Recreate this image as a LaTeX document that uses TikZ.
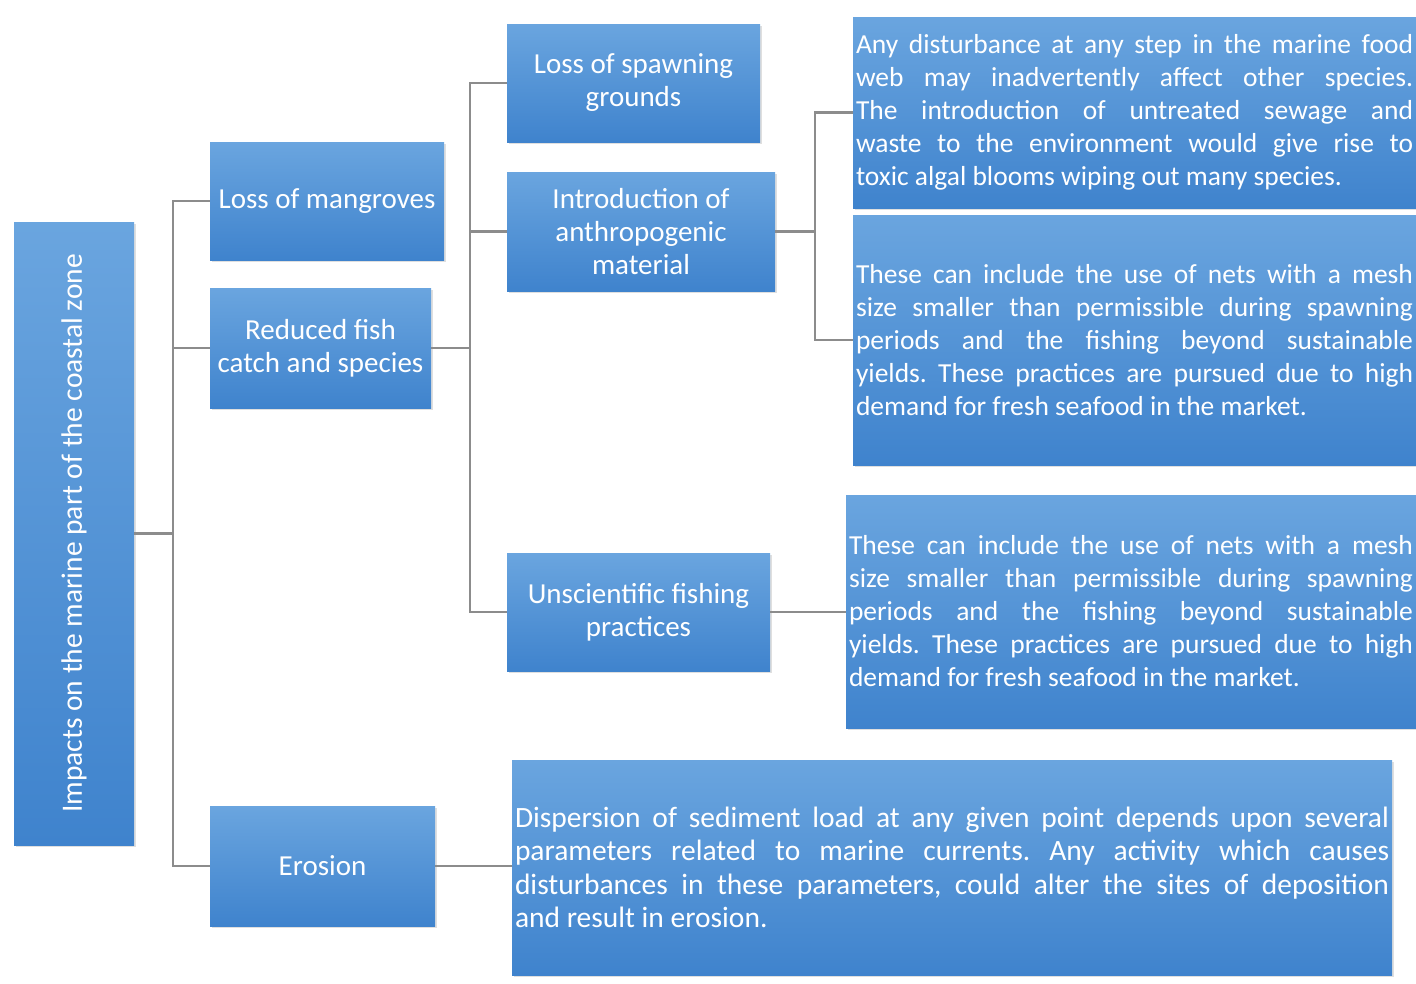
\documentclass[tikz,border=0pt]{standalone}
\usepackage{fontspec}
\setmainfont{Carlito}
\usetikzlibrary{shadows}
\definecolor{boxtop}{HTML}{6AA5DF}
\definecolor{boxbot}{HTML}{3F83CD}
\definecolor{conncol}{HTML}{8C8C8C}
\frenchspacing
\tikzset{
  box/.style={rectangle, top color=boxtop, bottom color=boxbot, draw=none,
    text=white, align=center, inner sep=3pt,
    font=\fontsize{29}{33}\selectfont\frenchspacing,
    drop shadow={opacity=0.25, shadow xshift=2pt, shadow yshift=-2pt}},
  txt/.style={box, align=justify, font=\fontsize{27.5}{33}\selectfont\frenchspacing},
  conn/.style={draw=conncol, line width=2.2pt}
}
\begin{document}
\begin{tikzpicture}[x=1pt,y=-1pt]
\useasboundingbox (0,0) rectangle (1416,983);
% level 0
\node[box, minimum width=120pt, minimum height=623pt] (root) at (74,533.5) {};
\node[rotate=90, text=white, font=\fontsize{29.5}{33}\selectfont] (roottxt) at (root.center) {Impacts on the marine part of the coastal zone};
% level 1
\node[box, minimum width=234pt, minimum height=118pt] (mang) at (327,201) {Loss of mangroves};
\node[box, minimum width=221pt, minimum height=120pt] (red) at (320.5,348) {Reduced fish\\catch and species};
\node[box, minimum width=225pt, minimum height=120pt] (eros) at (322.5,866) {Erosion};
% level 2
\node[box, minimum width=253pt, minimum height=118pt] (spawn) at (633.5,83) {Loss of spawning\\grounds};
\node[box, minimum width=268pt, minimum height=119pt] (intro) at (641,231.5) {Introduction of\\anthropogenic\\material};
\node[box, minimum width=263pt, minimum height=118pt] (unsci) at (638.5,612) {Unscientific fishing\\practices};
% text boxes
\node[txt, text width=557pt, minimum height=191pt] (t1) at (1134.5,112.5) {Any disturbance at any step in the marine food\linebreak web may inadvertently affect other species.\linebreak The introduction of untreated sewage and\linebreak waste to the environment would give rise to\linebreak toxic algal blooms wiping out many species.};
\node[txt, text width=557pt, minimum height=250pt] (t2) at (1134.5,340) {These can include the use of nets with a mesh\linebreak size smaller than permissible during spawning\linebreak periods and the fishing beyond sustainable\linebreak yields. These practices are pursued due to high\linebreak demand for fresh seafood in the market.};
\node[txt, text width=564pt, minimum height=233pt] (t3) at (1131,611.5) {These can include the use of nets with a mesh\linebreak size smaller than permissible during spawning\linebreak periods and the fishing beyond sustainable\linebreak yields. These practices are pursued due to high\linebreak demand for fresh seafood in the market.};
\node[txt, text width=874pt, minimum height=215pt, font=\fontsize{29.5}{33.5}\selectfont\frenchspacing] (t4) at (952,867.5) {Dispersion of sediment load at any given point depends upon several\linebreak parameters related to marine currents. Any activity which causes\linebreak disturbances in these parameters, could alter the sites of deposition\linebreak and result in erosion.};
% buses
\coordinate (bus1) at (173,0);
\coordinate (bus2) at (470,0);
\coordinate (bus3) at (815,0);
% connectors
\draw[conn] (root.east) -- (root.east -| bus1);
\draw[conn] (mang.west) -| (bus1 |- eros.west) -- (eros.west);
\draw[conn] (red.west) -- (red.west -| bus1);
\draw[conn] (red.east) -- (red.east -| bus2);
\draw[conn] (spawn.west) -| (bus2 |- unsci.west) -- (unsci.west);
\draw[conn] (intro.west) -- (intro.west -| bus2);
\draw[conn] (intro.east) -- (intro.east -| bus3);
\draw[conn] (t1.west) -| (bus3 |- t2.west) -- (t2.west);
\draw[conn] (unsci.east) -- (unsci.east -| t3.west);
\draw[conn] (eros.east) -- (eros.east -| t4.west);
\end{tikzpicture}
\end{document}
